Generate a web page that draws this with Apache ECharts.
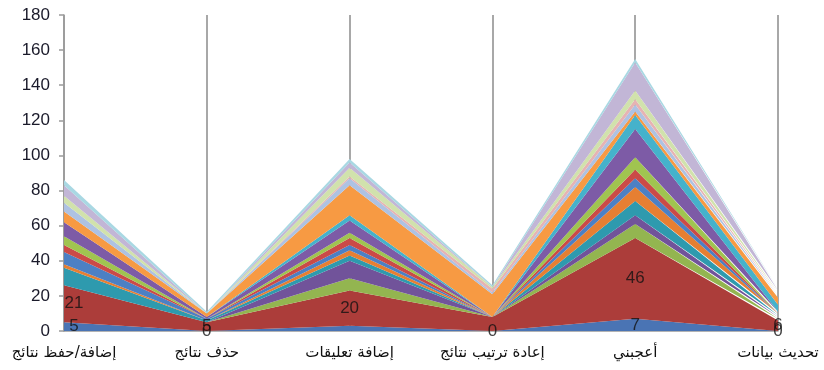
<!DOCTYPE html>
<html>
<head>
<meta charset="utf-8">
<script src="https://cdn.jsdelivr.net/npm/echarts@6/dist/echarts.min.js"></script>
<style>
  html, body { margin: 0; padding: 0; background: #ffffff; }
  #chart { width: 824px; height: 370px; }
</style>
</head>
<body>
<div id="chart"></div>
<script>
// Categories along the horizontal axis
const categories = ['إضافة/حفظ نتائج', 'حذف نتائج', 'إضافة تعليقات', 'إعادة ترتيب نتائج', 'أعجبني', 'تحديث بيانات'];

// Vertical axis
const yTicks = { min: 0, max: 180, interval: 20 };

// Stacked layers, bottom to top (one value per category)
const layer01 = [5, 0, 3, 0, 7, 0];
const layer02 = [21, 5, 20, 8, 46, 6];
const layer03 = [0, 0, 7, 0, 8, 1];
const layer04 = [0, 0, 10, 0, 5, 1];
const layer05 = [10, 1, 3, 0, 8, 1];
const layer06 = [2, 0, 3, 0, 8, 1];
const layer07 = [7, 1, 3, 0, 5, 0];
const layer08 = [4, 0, 4, 0, 5, 0];
const layer09 = [5, 0, 3, 0, 7, 0];
const layer10 = [8, 1, 7, 0, 16, 1];
const layer11 = [0, 0, 3, 0, 8, 4];
const layer12 = [6, 2, 17, 13, 2, 4];
const layer13 = [5, 0, 4, 1, 4, 1];
const layer14 = [0, 0, 1, 2, 3, 1];
const layer15 = [4, 0, 5, 1, 5, 1];
const layer16 = [6, 0, 3, 0, 16, 1];
const layer17 = [3, 1, 2, 1, 2, 1];

// Which points of the two bottom layers carry a value label
const layer01Labelled = [true, true, false, true, true, true];
const layer02Labelled = [true, true, true, false, true, true];

const layers = [layer01, layer02, layer03, layer04, layer05, layer06, layer07, layer08, layer09,
                layer10, layer11, layer12, layer13, layer14, layer15, layer16, layer17];

const palette = ['#4A74B4', '#AC3D3A', '#93B550', '#71539A', '#2E9AAE', '#E67F32',
                 '#4C80C4', '#CB4A47', '#A0C450', '#7D5BA6', '#45B2CB', '#F79A43',
                 '#AEC2E2', '#E6B3B3', '#D1E2AC', '#C2B6D6', '#A9D8E3'];

const areaSeries = layers.map((vals, i) => ({
  name: 'layer' + (i + 1),
  type: 'line',
  stack: 'total',
  data: vals,
  symbol: 'none',
  smooth: false,
  lineStyle: { width: 0 },
  areaStyle: { color: palette[i], opacity: 1 },
  itemStyle: { color: palette[i] },
  z: 2
}));

// Value labels sit at the middle of their band; the first column's labels are nudged into the plot
function midLabels(base, vals, shown) {
  return vals.map((v, i) => shown[i] ? {
    value: [i, base[i] + v / 2],
    raw: v,
    label: i === 0 ? { offset: [10, 0] } : undefined
  } : null).filter(Boolean);
}
const zeros = categories.map(() => 0);
const labelPoints = midLabels(zeros, layer01, layer01Labelled)
  .concat(midLabels(layer01, layer02, layer02Labelled));

const labelSeries = {
  type: 'scatter',
  data: labelPoints,
  symbolSize: 0,
  silent: true,
  z: 5,
  label: {
    show: true,
    position: 'inside',
    formatter: p => String(p.data.raw),
    color: '#111',
    fontSize: 17,
    fontFamily: 'Liberation Sans'
  }
};

const chart = echarts.init(document.getElementById('chart'), null, { renderer: 'canvas' });
chart.setOption({
  animation: false,
  backgroundColor: '#ffffff',
  grid: { left: 64, right: 46, top: 15, bottom: 39 },
  xAxis: {
    type: 'category',
    data: categories,
    boundaryGap: false,
    axisLine: { lineStyle: { color: '#9a9a9a', width: 1.5 } },
    axisTick: { show: false },
    splitLine: { show: true, lineStyle: { color: '#a8a8a8', width: 2 } },
    axisLabel: {
      margin: 15,
      color: '#111',
      fontSize: 15,
      fontFamily: 'DejaVu Sans',
      interval: 0
    }
  },
  yAxis: {
    type: 'value',
    min: yTicks.min,
    max: yTicks.max,
    interval: yTicks.interval,
    axisLine: { show: true, lineStyle: { color: '#9a9a9a', width: 1.5 } },
    axisTick: { show: true, length: 5, lineStyle: { color: '#9a9a9a', width: 1.5 } },
    splitLine: { show: false },
    axisLabel: {
      margin: 14,
      color: '#1a1a2a',
      fontSize: 17,
      fontFamily: 'Liberation Sans'
    }
  },
  series: areaSeries.concat([labelSeries])
});
</script>
</body>
</html>
